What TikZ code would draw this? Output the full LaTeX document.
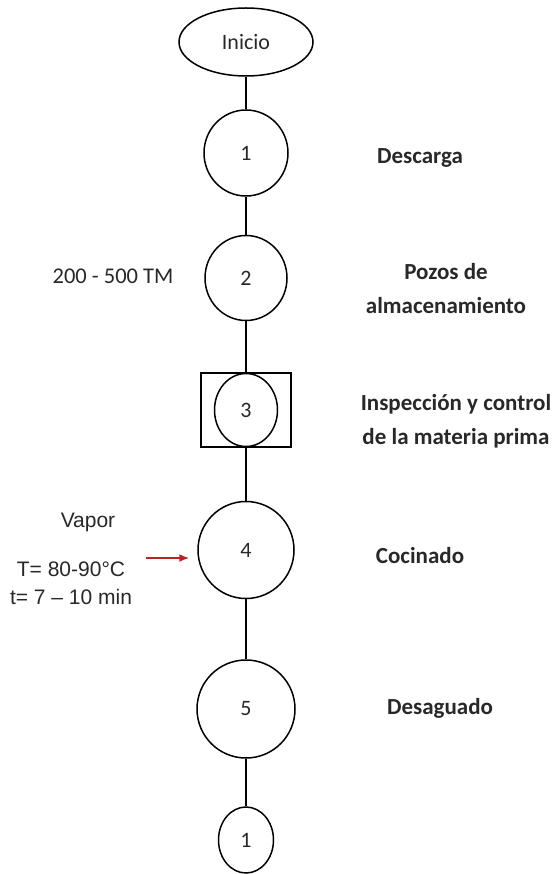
\documentclass[tikz,border=0pt]{standalone}
\usepackage{fontspec}
\setmainfont{Carlito}
\newfontfamily\arialfont{Liberation Sans}
\usetikzlibrary{shapes.geometric,arrows.meta}
\definecolor{inkgray}{RGB}{40,40,40}
\definecolor{vaporred}{RGB}{185,35,35}

\tikzset{
	flow node/.style = {
		ellipse,
		draw = black,
		line width = 1.5pt,
		inner sep = 0pt,
		text = inkgray,
		font = \fontsize{22}{26}\selectfont
	},
	insp node/.style = {
		rectangle,
		draw = black,
		line width = 1.5pt,
		minimum width = 90pt,
		minimum height = 74pt
	},
	name node/.style = {
		align = center,
		text = inkgray,
		font = \bfseries\fontsize{23}{34}\selectfont
	},
	note node/.style = {
		align = center,
		text = inkgray,
		font = \arialfont\fontsize{21}{28}\selectfont
	}
}

\begin{document}
\begin{tikzpicture}[x=1pt,y=-1pt]
	\useasboundingbox (0,0) rectangle (555,874);
	\node at (246,42)  [flow node, minimum width=134pt, minimum height=68pt] (inicio) {Inicio};
	\node at (246,153) [flow node, minimum width=84pt, minimum height=86pt] (op1) {1};
	\node at (246,278) [flow node, minimum width=82pt, minimum height=85pt] (op2) {2};
	\node at (246,410) [insp node] (insp3) {};
	\node at (246,410) [flow node, minimum width=63pt, minimum height=73pt] (op3) {3};
	\node at (246,550) [flow node, minimum width=96pt, minimum height=97pt] (op4) {4};
	\node at (246,709) [flow node, minimum width=98pt, minimum height=98pt] (op5) {5};
	\node at (246,840) [flow node, minimum width=55pt, minimum height=66pt] (conn1) {1};
	\draw [line width=1.5pt] (inicio) -- (op1);
	\draw [line width=1.5pt] (op1) -- (op2);
	\draw [line width=1.5pt] (op2) -- (op3);
	\draw [line width=1.5pt] (op3) -- (op4);
	\draw [line width=1.5pt] (op4) -- (op5);
	\draw [line width=1.5pt] (op5) -- (conn1);
	\node at (420,158) [name node] (descarga) {Descarga};
	\node at (446,289) [name node] (pozos) {Pozos de\\almacenamiento};
	\node at (456,421) [name node] (inspeccion) {Inspección y control\\de la materia prima};
	\node at (420,556) [name node] (cocinado) {Cocinado};
	\node at (440,708) [name node] (desaguado) {Desaguado};
	\node at (113,276) [text=inkgray, font=\fontsize{22.5}{26}\selectfont] (capacidad) {200 - 500 TM};
	\node at (88,522)  [note node] (vapor) {Vapor};
	\node at (71,583)  [note node] (condicion) {T= 80-90°C\\t= 7 – 10 min};
	\coordinate (vaporin) at (146,558);
	\draw [vaporred, line width=1.6pt, -{Latex[length=10pt,width=8pt]}, shorten >=8pt] (vaporin) -- (vaporin -| op4.west);
\end{tikzpicture}
\end{document}
